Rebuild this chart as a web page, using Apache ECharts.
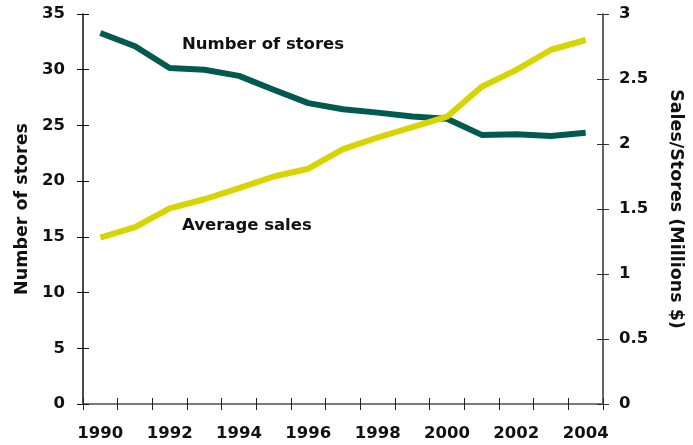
<!DOCTYPE html>
<html>
<head>
<meta charset="utf-8">
<script src="https://cdn.jsdelivr.net/npm/echarts@6/dist/echarts.min.js"></script>
<style>
  html, body { margin: 0; padding: 0; background: #fff; }
  #chart { width: 693px; height: 445px; }
</style>
</head>
<body>
<div id="chart"></div>
<script>
// Years on the category axis
const years = ['1990','1991','1992','1993','1994','1995','1996','1997','1998','1999','2000','2001','2002','2003','2004'];
// Number of stores (left axis)
const storeCounts = [33.3, 32.1, 30.15, 30.0, 29.45, 28.2, 27.0, 26.45, 26.15, 25.8, 25.6, 24.15, 24.2, 24.05, 24.35];
// Average sales per store, millions $ (right axis)
const avgSales = [1.28, 1.36, 1.505, 1.575, 1.66, 1.75, 1.81, 1.96, 2.05, 2.13, 2.21, 2.44, 2.57, 2.725, 2.80];

const FONT = 'DejaVu Sans';
const TEAL = '#005a4f';
const YELLOW = '#d8d400';

const chart = echarts.init(document.getElementById('chart'));

const baseX = {
  type: 'category',
  data: years,
  boundaryGap: true,
  axisLine: { show: true, lineStyle: { color: '#7a7a7a', width: 2 } },
  splitLine: { show: false }
};
const labelStyle = { color: '#111', fontFamily: FONT, fontWeight: 'bold', fontSize: 16.5 };
const titleStyle = { color: '#111', fontFamily: FONT, fontWeight: 'bold', fontSize: 17.5 };

chart.setOption({
  animation: false,
  grid: { left: 83, right: 89, top: 14, bottom: 41 },
  xAxis: [
    Object.assign({}, baseX, {
      axisTick: { show: true, interval: 0, length: 6, lineStyle: { color: '#222', width: 1 } },
      axisLabel: Object.assign({ interval: 1, margin: 21 }, labelStyle)
    }),
    Object.assign({}, baseX, {
      position: 'bottom',
      axisTick: { show: true, interval: 0, inside: true, length: 6, lineStyle: { color: '#222', width: 1 } },
      axisLabel: { show: false }
    })
  ],
  yAxis: [
    {
      type: 'value', position: 'left', min: 0, max: 35, interval: 5,
      name: 'Number of stores', nameLocation: 'middle', nameGap: 47,
      nameTextStyle: titleStyle,
      axisLine: { show: true, lineStyle: { color: '#111', width: 1.5 } },
      axisTick: { show: true, length: 6, lineStyle: { color: '#111' } },
      axisLabel: Object.assign({ margin: 18 }, labelStyle),
      splitLine: { show: false }
    },
    {
      type: 'value', position: 'right', min: 0, max: 3, interval: 0.5,
      name: 'Sales/Stores (Millions $)', nameLocation: 'middle', nameGap: 64, nameRotate: -90,
      nameTextStyle: titleStyle,
      axisLine: { show: true, lineStyle: { color: '#333', width: 1.5 } },
      axisTick: { show: true, length: 6, lineStyle: { color: '#333' } },
      axisLabel: Object.assign({ margin: 16 }, labelStyle),
      splitLine: { show: false }
    },
    {
      type: 'value', position: 'left', min: 0, max: 35, interval: 5,
      axisLine: { show: false },
      axisTick: { show: true, inside: true, length: 6, lineStyle: { color: '#111' } },
      axisLabel: { show: false }, splitLine: { show: false }
    },
    {
      type: 'value', position: 'right', min: 0, max: 3, interval: 0.5,
      axisLine: { show: false },
      axisTick: { show: true, inside: true, length: 6, lineStyle: { color: '#333' } },
      axisLabel: { show: false }, splitLine: { show: false }
    }
  ],
  graphic: [
    { type: 'text', left: 182, top: 36, style: { text: 'Number of stores', fill: '#111', font: 'bold 16.5px "DejaVu Sans"' } },
    { type: 'text', left: 182, top: 217, style: { text: 'Average sales', fill: '#111', font: 'bold 16.5px "DejaVu Sans"' } }
  ],
  series: [
    {
      name: 'Number of stores', type: 'line', xAxisIndex: 0, yAxisIndex: 0,
      data: storeCounts, symbol: 'none',
      lineStyle: { color: TEAL, width: 6, cap: 'butt', join: 'round' }
    },
    {
      name: 'Average sales', type: 'line', xAxisIndex: 0, yAxisIndex: 1,
      data: avgSales, symbol: 'none',
      lineStyle: { color: YELLOW, width: 6, cap: 'butt', join: 'round' }
    }
  ]
});
</script>
</body>
</html>
